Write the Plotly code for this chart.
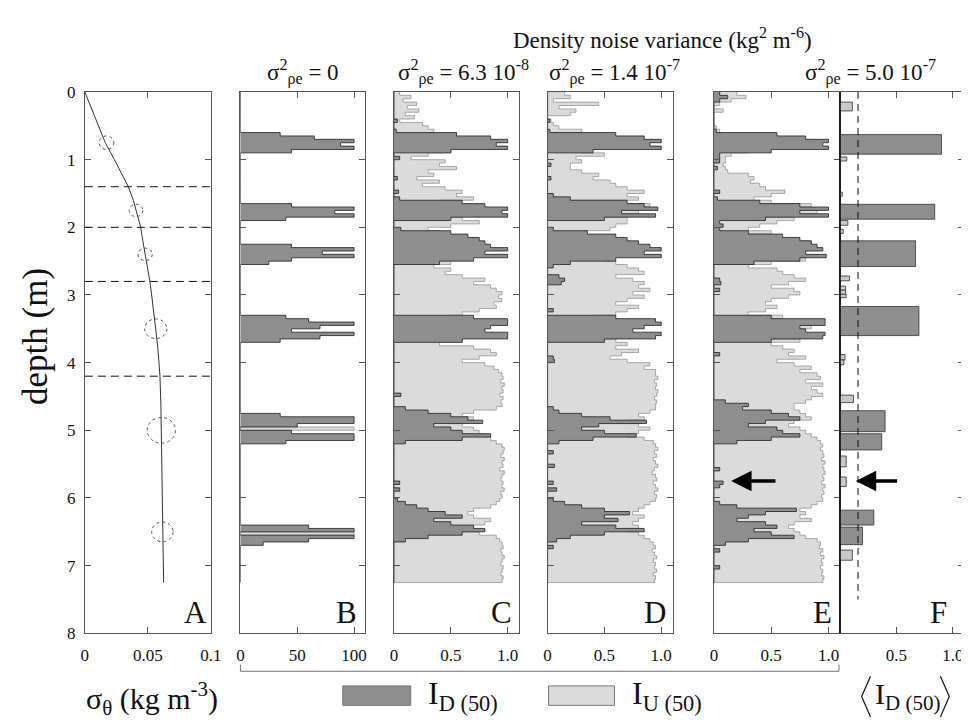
import plotly.graph_objects as go

FONT = "Liberation Serif"
W, H = 969, 721

# ---------------- DATA ----------------
# depth grid (m) for the I profiles, 0.05 m steps, 0 .. 7.25
depth_grid = [round(i * 0.05, 2) for i in range(146)]

# Panel A: density profile sigma_theta (kg m^-3) vs depth (m)
a_depth = [0, 0.25, 0.5, 0.75, 1.0, 1.2, 1.4, 1.6, 1.75, 2.0, 2.2, 2.4, 2.6, 2.8,
           3.0, 3.2, 3.5, 3.8, 4.2, 4.6, 5.0, 5.5, 6.0, 6.5, 7.0, 7.25]
a_sigma = [0, 0.0055, 0.011, 0.0162, 0.0235, 0.029, 0.0345, 0.0385, 0.0405, 0.0443,
           0.046, 0.0478, 0.050, 0.0516, 0.053, 0.0545, 0.0562, 0.058, 0.0596, 0.0603,
           0.0607, 0.0611, 0.0615, 0.0619, 0.0623, 0.0625]
# error ellipses on the profile
circ_depth = [0.75, 1.75, 2.4, 3.5, 5.0, 6.5]
circ_sigma = [0.0172, 0.0406, 0.0479, 0.0563, 0.0607, 0.0615]
circ_err_sigma = [0.0058, 0.0054, 0.0056, 0.0088, 0.0112, 0.0085]
circ_err_depth = [0.10, 0.092, 0.092, 0.145, 0.19, 0.145]
layer_bounds = [1.4, 2.0, 2.8, 4.2]

# Panel B (sigma^2 = 0), I values in %
B_D = [0, 0, 0, 0, 0, 0, 0, 0, 0, 0,
       0, 0, 35, 65, 100, 88, 100, 45, 0, 0,
       0, 0, 0, 0, 0, 0, 0, 0, 0, 0,
       0, 0, 0, 45, 100, 83, 100, 40, 0, 0,
       0, 0, 0, 0, 0, 45, 100, 72, 100, 45,
       25, 0, 0, 0, 0, 0, 0, 0, 0, 0,
       0, 0, 0, 0, 0, 0, 40, 60, 100, 70,
       45, 100, 70, 35, 0, 0, 0, 0, 0, 0,
       0, 0, 0, 0, 0, 0, 0, 0, 0, 0,
       0, 0, 0, 0, 0, 35, 100, 100, 50, 0,
       45, 100, 100, 40, 0, 0, 0, 0, 0, 0,
       0, 0, 0, 0, 0, 0, 0, 0, 0, 0,
       0, 0, 0, 0, 0, 0, 0, 0, 60, 100,
       0, 100, 60, 20, 0, 0, 0, 0, 0, 0,
       0, 0, 0, 0, 0, 0]
B_U = [0, 0, 0, 0, 0, 0, 0, 0, 0, 0,
       0, 0, 0, 0, 0, 0, 0, 0, 0, 0,
       0, 0, 0, 0, 0, 0, 0, 0, 0, 0,
       0, 0, 0, 0, 0, 0, 0, 0, 0, 0,
       0, 0, 0, 0, 0, 0, 0, 0, 0, 0,
       0, 0, 0, 0, 0, 0, 0, 0, 0, 0,
       0, 0, 0, 0, 0, 0, 0, 0, 0, 0,
       0, 0, 0, 0, 0, 0, 0, 0, 0, 0,
       0, 0, 0, 0, 0, 0, 0, 0, 0, 0,
       0, 0, 0, 0, 0, 0, 0, 0, 0, 100,
       0, 0, 0, 0, 0, 0, 0, 0, 0, 0,
       0, 0, 0, 0, 0, 0, 0, 0, 0, 0,
       0, 0, 0, 0, 0, 0, 0, 0, 0, 0,
       100, 0, 0, 0, 0, 0, 0, 0, 0, 0,
       0, 0, 0, 0, 0, 0]

# Panel C (sigma^2 = 6.3e-8)
C_D = [0, 0, 0, 0, 0, 0, 0, 0, 0.03, 0,
       0, 0.02, 0.55, 0.85, 1.0, 0.9, 1.0, 0.5, 0, 0.05,
       0, 0, 0, 0, 0, 0.03, 0, 0, 0, 0.04,
       0, 0.05, 0.6, 0.8, 1.0, 0.95, 1.0, 0.5, 0, 0,
       0.06, 0.5, 0.65, 0.75, 0.8, 0.85, 1.0, 0.8, 1.0, 0.7,
       0.4, 0, 0, 0, 0, 0, 0, 0, 0, 0,
       0, 0, 0, 0, 0, 0, 0.7, 1.0, 1.0, 0.85,
       0.8, 1.0, 1.0, 0.6, 0, 0, 0, 0, 0, 0,
       0, 0, 0, 0, 0, 0, 0, 0, 0, 0.06,
       0, 0, 0, 0.1, 0.3, 0.5, 0.65, 0.78, 0.35, 0.5,
       0.6, 0.85, 0.6, 0.1, 0, 0, 0, 0, 0, 0,
       0, 0, 0, 0, 0, 0.05, 0, 0.05, 0, 0,
       0.03, 0.1, 0.2, 0.3, 0.45, 0.6, 0.35, 0.5, 0.7, 0.8,
       0.6, 0.3, 0.1, 0, 0, 0, 0, 0, 0, 0,
       0, 0, 0, 0, 0, 0]
C_U = [0.05, 0.15, 0.08, 0.2, 0.12, 0.22, 0.1, 0.18, 0.05, 0.25,
       0.3, 0.35, 0.3, 0, 0, 0, 0, 0.5, 0.3, 0.15,
       0.45, 0.4, 0.55, 0.3, 0.35, 0.2, 0.4, 0.25, 0.45, 0.6,
       0.55, 0.7, 0.4, 0, 0, 0, 0, 0.6, 0.75, 0.5,
       0.3, 0.4, 0, 0, 0, 0, 0, 0, 0, 0.5,
       0.5, 0.35, 0.5, 0.45, 0.6, 0.8, 0.7, 0.85, 0.9, 0.95,
       0.92, 0.95, 0.88, 0.9, 0.75, 0.6, 0.5, 0, 0, 0,
       0, 0, 0, 0.6, 0.4, 0.7, 0.85, 0.9, 0.75, 0.6,
       0.8, 0.88, 0.92, 0.95, 0.96, 0.94, 0.97, 0.95, 0.96, 0.93,
       0.96, 0.94, 0.95, 0.9, 0.7, 0.6, 0.7, 0.55, 0.6, 0.7,
       0.75, 0.8, 0.85, 0.9, 0.95, 0.97, 0.96, 0.94, 0.97, 0.95,
       0.96, 0.93, 0.97, 0.95, 0.94, 0.96, 0.95, 0.97, 0.94, 0.95,
       0.93, 0.9, 0.85, 0.7, 0.65, 0.7, 0.85, 0.8, 0.7, 0.6,
       0.75, 0.9, 0.93, 0.95, 0.96, 0.94, 0.95, 0.97, 0.95, 0.94,
       0.96, 0.95, 0.94, 0.96, 0.95, 0]

# Panel D (sigma^2 = 1.4e-7)
D_D = [0, 0, 0, 0, 0, 0, 0, 0, 0.02, 0,
       0, 0.02, 0.6, 0.85, 1.0, 0.9, 1.0, 0.4, 0, 0,
       0, 0.03, 0, 0, 0, 0.03, 0, 0, 0, 0,
       0.05, 0.2, 0.7, 0.85, 0.97, 0.65, 0.95, 0.5, 0, 0,
       0.05, 0.35, 0.6, 0.7, 0.8, 0.9, 1.0, 0.85, 1.0, 0.6,
       0.2, 0.05, 0, 0, 0.1, 0.15, 0.12, 0, 0, 0,
       0, 0, 0, 0, 0.05, 0, 0.6, 0.95, 1.0, 0.85,
       0.75, 1.0, 0.95, 0.5, 0, 0, 0, 0, 0.05, 0.06,
       0, 0, 0, 0, 0, 0, 0, 0, 0, 0,
       0, 0, 0, 0.05, 0.1, 0.3, 0.55, 0.87, 0.45, 0.3,
       0.5, 0.78, 0.4, 0.1, 0, 0, 0.05, 0, 0, 0,
       0.06, 0, 0, 0, 0, 0.05, 0, 0.08, 0, 0,
       0.05, 0.15, 0.3, 0.5, 0.72, 0.5, 0.62, 0.3, 0.6, 0.85,
       0.5, 0.2, 0.08, 0, 0.05, 0, 0, 0, 0, 0,
       0, 0, 0, 0, 0, 0]
D_U = [0.15, 0.2, 0.05, 0.45, 0.1, 0.25, 0.2, 0, 0.03, 0.05,
       0.1, 0.3, 0, 0, 0, 0, 0, 0.3, 0.5, 0.25,
       0.3, 0.2, 0.2, 0.3, 0.45, 0.4, 0.55, 0.6, 0.7, 0.85,
       0.7, 0.8, 0, 0.9, 0, 0.8, 0, 0.7, 0.7, 0.6,
       0.55, 0.3, 0, 0, 0, 0, 0, 0, 0, 0.5,
       0.6, 0.7, 0.8, 0.85, 0.6, 0.75, 0.85, 0.8, 0.9, 0.75,
       0.85, 0.7, 0.6, 0.8, 0.7, 0.6, 0.4, 0, 0, 0,
       0, 0, 0, 0.6, 0.7, 0.6, 0.8, 0.65, 0.55, 0.7,
       0.9, 0.85, 0.95, 0.95, 0.97, 0.94, 0.96, 0.95, 0.97, 0.96,
       0.94, 0.96, 0.95, 0.95, 0.9, 0.8, 0.85, 0.7, 0.8, 0.9,
       0.8, 0.7, 0.85, 0.93, 0.95, 0.97, 0.94, 0.96, 0.93, 0.95,
       0.97, 0.94, 0.92, 0.95, 0.96, 0.93, 0.95, 0.97, 0.94, 0.96,
       0.95, 0.9, 0.85, 0.8, 0.75, 0.85, 0.8, 0.75, 0.8, 0.7,
       0.8, 0.85, 0.9, 0.93, 0.95, 0.92, 0.94, 0.96, 0.93, 0.95,
       0.94, 0.96, 0.93, 0.95, 0.94, 0]

# Panel E (sigma^2 = 5.0e-7)
E_D = [0.05, 0.12, 0.05, 0, 0, 0, 0, 0, 0, 0,
       0, 0.02, 0.55, 0.8, 1.0, 0.95, 1.0, 0.5, 0.05, 0.05,
       0.05, 0, 0.03, 0, 0, 0, 0, 0, 0, 0.05,
       0, 0.03, 0.4, 0.75, 1.0, 0.75, 1.0, 0.45, 0.05, 0.08,
       0.05, 0.3, 0.6, 0.75, 0.85, 0.9, 0.95, 0.8, 0.98, 0.75,
       0.35, 0, 0, 0, 0, 0.05, 0.06, 0, 0.05, 0,
       0, 0, 0, 0, 0, 0, 0.5, 0.97, 0.97, 0.75,
       0.8, 0.97, 0.95, 0.5, 0, 0, 0, 0.05, 0, 0,
       0, 0, 0, 0, 0, 0, 0, 0, 0, 0,
       0, 0.1, 0.3, 0.25, 0.5, 0.65, 0.75, 0.45, 0.3, 0.55,
       0.6, 0.75, 0.5, 0.2, 0, 0, 0, 0, 0, 0,
       0, 0.05, 0, 0, 0, 0.08, 0.05, 0, 0, 0,
       0, 0.05, 0.2, 0.72, 0.45, 0.3, 0.2, 0.45, 0.55, 0.35,
       0.5, 0.7, 0.3, 0.1, 0, 0.05, 0, 0, 0, 0,
       0.05, 0, 0, 0, 0, 0]
E_U = [0.2, 0.28, 0.15, 0.05, 0, 0.08, 0, 0, 0, 0,
       0.02, 0.05, 0, 0, 0, 0, 0, 0.3, 0.15, 0.1,
       0.1, 0.08, 0.1, 0.12, 0.3, 0.35, 0.32, 0.4, 0.45, 0.62,
       0.5, 0.35, 0.5, 0.85, 0, 0.9, 0, 0.7, 0.55, 0.4,
       0.3, 0.5, 0, 0, 0.85, 0, 0, 0, 0, 0.8,
       0.5, 0.3, 0.55, 0.6, 0.7, 0.8, 0.65, 0.5, 0.7, 0.75,
       0.65, 0.5, 0.45, 0.55, 0.45, 0.3, 0.6, 0, 0, 0.85,
       0, 0, 0, 0.75, 0.5, 0.6, 0.7, 0.65, 0.8, 0.55,
       0.7, 0.85, 0.75, 0.9, 0.93, 0.8, 0.95, 0.85, 0.9, 0.95,
       0.85, 0.8, 0.7, 0.7, 0.75, 0.8, 0.85, 0.7, 0.65, 0.75,
       0.8, 0.85, 0.9, 0.93, 0.95, 0.93, 0.95, 0.96, 0.94, 0.97,
       0.95, 0.96, 0.97, 0.95, 0.96, 0.94, 0.97, 0.95, 0.96, 0.94,
       0.95, 0.9, 0.85, 0.75, 0.8, 0.75, 0.85, 0.7, 0.65, 0.7,
       0.75, 0.8, 0.9, 0.93, 0.92, 0.95, 0.93, 0.96, 0.94, 0.95,
       0.93, 0.95, 0.94, 0.96, 0.95, 0]

# Panel F: layer means <I_D(50)>
f_top = [0.15, 0.63, 0.96, 1.48, 1.66, 1.90, 2.03, 2.20, 2.72, 2.87, 2.93, 2.99,
         3.17, 3.88, 3.96, 4.48, 4.71, 5.05, 5.38, 5.69, 6.18, 6.43, 6.77]
f_bot = [0.28, 0.92, 1.02, 1.54, 1.88, 1.97, 2.09, 2.58, 2.79, 2.93, 2.99, 3.04,
         3.60, 3.96, 4.03, 4.59, 5.02, 5.29, 5.54, 5.83, 6.40, 6.69, 6.92]
f_val = [0.11, 0.90, 0.06, 0.02, 0.84, 0.07, 0.03, 0.67, 0.085, 0.05, 0.05, 0.055,
         0.70, 0.045, 0.035, 0.12, 0.40, 0.37, 0.055, 0.055, 0.30, 0.20, 0.11]
f_threshold = 0.16
f_threshold_depth = [0.0, 7.5]

# Arrows (E and F) marking the layer at 5.75 m
arrow_depth = 5.75
arrow_E = [0.55, 0.15]
arrow_F = [0.52, 0.14]

panel_letters = ["A", "B", "C", "D", "E", "F"]
noise_labels = ["σ<sup>2</sup><sub>ρe</sub> = 0",
                "σ<sup>2</sup><sub>ρe</sub> = 6.3 10<sup>-8</sup>",
                "σ<sup>2</sup><sub>ρe</sub> = 1.4 10<sup>-7</sup>",
                "σ<sup>2</sup><sub>ρe</sub> = 5.0 10<sup>-7</sup>"]

# ---------------- LAYOUT GEOMETRY (pixels) ----------------
top_px, bot_px = 77, 633
panels_px = [(74, 202), (232, 359), (388, 515), (544, 671), (713, 841), (841, 967)]
x_ranges = [[0, 0.1], [0, 110], [0, 1.1], [0, 1.1], [0, 1.1], [0, 1.1]]
x_tickvals = [[0, 0.05, 0.1], [0, 50, 100], [0, 0.5, 1.0], [0, 0.5, 1.0], [0, 0.5, 1.0], [0.5, 1.0]]
x_ticktext = [["0", "0.05", "0.1"], ["0", "50", "100"], ["0", "0.5", "1.0"],
              ["0", "0.5", "1.0"], ["0", "0.5", "1.0"], ["0.5", "1.0"]]

DARK = "#8e8e8e"
LIGHT = "#dbdbdb"
FRAME = "#555555"

fig = go.Figure()


def ax_names(k):
    n = "" if k == 0 else str(k + 1)
    return "x" + n, "y" + n


# Panel A
fig.add_trace(go.Scatter(x=a_sigma, y=a_depth, mode="lines",
                         line=dict(color="#333", width=1), xaxis="x", yaxis="y"))

# Panels B-E
profiles = [(B_D, B_U), (C_D, C_U), (D_D, D_U), (E_D, E_U)]
for k, (dv, uv) in enumerate(profiles, start=1):
    xa, ya = ax_names(k)
    fig.add_trace(go.Scatter(x=uv, y=depth_grid, mode="lines",
                             line=dict(shape="vh", color="#8a8a8a", width=0.7),
                             fill="tozerox", fillcolor=LIGHT, xaxis=xa, yaxis=ya))
    fig.add_trace(go.Scatter(x=dv, y=depth_grid, mode="lines",
                             line=dict(shape="vh", color="#1e1e1e", width=0.8),
                             fill="tozerox", fillcolor=DARK, xaxis=xa, yaxis=ya))

# Panel F
f_center = [(a + b) / 2 for a, b in zip(f_top, f_bot)]
f_width = [b - a for a, b in zip(f_top, f_bot)]
f_colors = [DARK if v >= 0.15 else "#c9c9c9" for v in f_val]
fig.add_trace(go.Bar(x=f_val, y=f_center, width=f_width, orientation="h", base=0,
                     marker=dict(color=f_colors, line=dict(color="#333", width=0.8)),
                     xaxis="x6", yaxis="y6"))

layout = dict(width=W, height=H, margin=dict(l=0, r=0, t=0, b=0),
              paper_bgcolor="white", plot_bgcolor="white", showlegend=False,
              font=dict(family=FONT, color="#111"))

for k, (x0, x1) in enumerate(panels_px):
    xa, ya = ax_names(k)
    xkey = "xaxis" if k == 0 else "xaxis%d" % (k + 1)
    ykey = "yaxis" if k == 0 else "yaxis%d" % (k + 1)
    layout[xkey] = dict(domain=[x0 / W, x1 / W], anchor=ya, range=x_ranges[k],
                        tickvals=x_tickvals[k], ticktext=x_ticktext[k],
                        ticks="inside", ticklen=6, tickcolor=FRAME, tickwidth=1,
                        mirror="allticks", showline=True, linecolor=FRAME, linewidth=1,
                        showgrid=False, zeroline=False, ticklabelstandoff=6,
                        tickfont=dict(family=FONT, size=17, color="#111"))
    ydict = dict(domain=[1 - bot_px / H, 1 - top_px / H], anchor=xa, range=[8, 0],
                 ticks="inside", ticklen=6, tickcolor=FRAME, tickwidth=1,
                 showline=True, linecolor=FRAME, linewidth=1,
                 showgrid=False, zeroline=False,
                 tickfont=dict(family=FONT, size=17, color="#111"))
    if k == 0:
        ydict.update(tickvals=list(range(9)), mirror="allticks", showticklabels=True,
                     ticklabelstandoff=5)
    elif k == 5:
        ydict.update(tickvals=list(range(1, 8)), side="right", mirror=True,
                     showticklabels=False)
    else:
        ydict.update(tickvals=list(range(1, 8)), mirror="allticks", showticklabels=False)
    layout[ykey] = ydict

shapes = []
# dashed layer boundaries in A
for b in layer_bounds:
    shapes.append(dict(type="line", xref="x domain", yref="y", x0=0, x1=1, y0=b, y1=b,
                       line=dict(color="#111", width=1, dash="8px,5px")))
# ellipses in A
for d, s, es, ed in zip(circ_depth, circ_sigma, circ_err_sigma, circ_err_depth):
    shapes.append(dict(type="circle", xref="x", yref="y", x0=s - es, x1=s + es,
                       y0=d - ed, y1=d + ed, line=dict(color="#555", width=1, dash="dot")))
# threshold in F
shapes.append(dict(type="line", xref="x6", yref="y6", x0=f_threshold, x1=f_threshold,
                   y0=f_threshold_depth[0], y1=f_threshold_depth[1],
                   line=dict(color="#111", width=1, dash="7px,5px")))
# E/F divider
shapes.append(dict(type="line", xref="paper", yref="paper", x0=841 / W, x1=841 / W,
                   y0=1 - bot_px / H, y1=1 - top_px / H, line=dict(color="#000", width=1.3)))
# bracket below B-E
bx0, bx1, by, byt = 232, 840, 672, 665
shapes.append(dict(type="path", xref="paper", yref="paper",
                   path="M %f %f L %f %f L %f %f L %f %f" % (
                       bx0 / W, 1 - byt / H, bx0 / W, 1 - by / H,
                       bx1 / W, 1 - by / H, bx1 / W, 1 - byt / H),
                   line=dict(color="#777", width=1)))
# legend boxes
for (lx0, lx1), col in [((336, 405), DARK), ((545, 612), LIGHT)]:
    shapes.append(dict(type="rect", xref="paper", yref="paper", x0=lx0 / W, x1=lx1 / W,
                       y0=1 - 707 / H, y1=1 - 687 / H, fillcolor=col,
                       line=dict(color="#777", width=1)))
# angle brackets for <I_D(50)>
for pts in [[(872, 677), (863, 698), (872, 719)], [(943, 677), (952, 698), (943, 719)]]:
    shapes.append(dict(type="path", xref="paper", yref="paper",
                       path="M %f %f L %f %f L %f %f" % (
                           pts[0][0] / W, 1 - pts[0][1] / H, pts[1][0] / W, 1 - pts[1][1] / H,
                           pts[2][0] / W, 1 - pts[2][1] / H),
                       line=dict(color="#111", width=1.2)))
layout["shapes"] = shapes

ann = []


def txt(x, y, text, size, xanchor="center", angle=0):
    ann.append(dict(x=x / W, y=1 - y / H, xref="paper", yref="paper", text=text,
                    showarrow=False, xanchor=xanchor, yanchor="middle", textangle=angle,
                    font=dict(family=FONT, size=size, color="#111")))


txt(661, 22, "Density noise variance (kg<sup>2</sup> m<sup>-6</sup>)", 23)
for cx, lab in zip([296, 459, 612, 872], noise_labels):
    txt(cx, 57, lab, 23)
for cx, letter in zip([186, 340, 497, 653, 823, 941], panel_letters):
    txt(cx, 612, letter, 31)
txt(142, 700, "σ<sub>θ</sub> (kg m<sup>-3</sup>)", 30)
txt(24, 328, "depth (m)", 35, angle=-90)
txt(421, 697, "I<sub>D (50)</sub>", 32, xanchor="left")
txt(628, 697, "I<sub>U (50)</sub>", 32, xanchor="left")
txt(875, 697, "I<sub>D (50)</sub>", 30, xanchor="left")

for (xa, ya, pts) in [("x5", "y5", arrow_E), ("x6", "y6", arrow_F)]:
    ann.append(dict(x=pts[1], y=arrow_depth, ax=pts[0], ay=arrow_depth,
                    xref=xa, yref=ya, axref=xa, ayref=ya, text="", showarrow=True,
                    arrowhead=2, arrowsize=1.2, arrowwidth=3.4, arrowcolor="#000"))
layout["annotations"] = ann

fig.update_layout(**layout)
fig.write_html("out.html")
